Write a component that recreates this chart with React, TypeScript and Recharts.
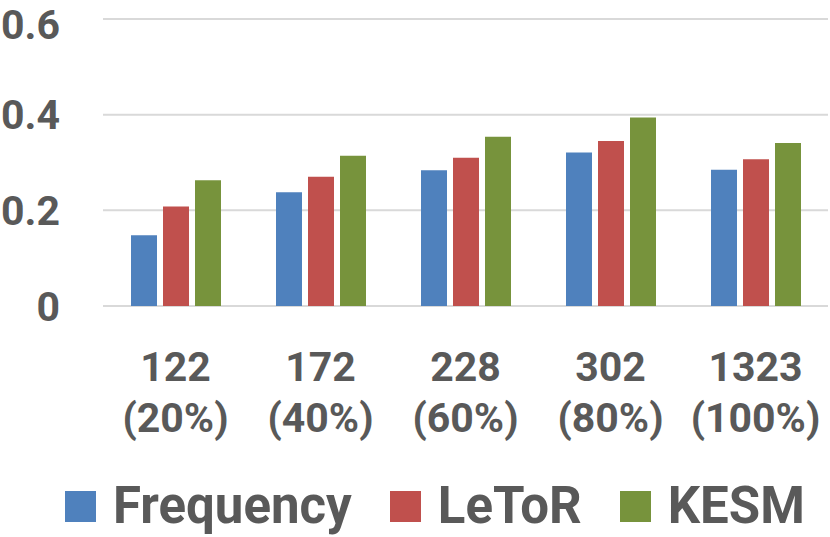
import React from "react";
import { BarChart, Bar, XAxis, YAxis, CartesianGrid } from "recharts";

const counts = ["122", "172", "228", "302", "1323"];
const shares = ["(20%)", "(40%)", "(60%)", "(80%)", "(100%)"];
const frequency = [0.148, 0.238, 0.284, 0.321, 0.285];
const letor = [0.208, 0.27, 0.31, 0.345, 0.307];
const kesm = [0.263, 0.314, 0.354, 0.394, 0.341];
const yTicks = [0, 0.2, 0.4, 0.6];

const series = [
  { key: "Frequency", color: "#4F81BD" },
  { key: "LeToR", color: "#C0504D" },
  { key: "KESM", color: "#77933C" },
];

const data = counts.map((c, i) => ({
  name: c,
  share: shares[i],
  Frequency: frequency[i],
  LeToR: letor[i],
  KESM: kesm[i],
}));

const FONT = "Roboto, 'DejaVu Sans', sans-serif";
const TEXT = "#595959";

const XTick = (props: any) => {
  const { x, y, payload, index } = props;
  return (
    <text
      x={x}
      y={y}
      textAnchor="middle"
      fill={TEXT}
      fontFamily={FONT}
      fontWeight={700}
      fontSize={41}
    >
      <tspan x={x} dy={67}>{payload.value}</tspan>
      <tspan x={x} dy={51}>{shares[index]}</tspan>
    </text>
  );
};

export default function App() {
  return (
    <div style={{ position: "absolute", left: 0, top: 0, width: 830, height: 537, background: "#fff" }}>
      <BarChart
        width={830}
        height={537}
        data={data}
        margin={{ top: 19, right: 2, left: 0, bottom: 0 }}
        barSize={26}
        barGap={6}
      >
        <CartesianGrid vertical={false} stroke="#d9d9d9" strokeWidth={2} />
        <XAxis
          dataKey="name"
          height={231}
          axisLine={false}
          tickLine={false}
          interval={0}
          tick={<XTick />}
        />
        <YAxis
          width={103}
          domain={[0, 0.6]}
          ticks={yTicks}
          axisLine={false}
          tickLine={false}
          tickFormatter={(v: number) => (v === 0 ? "0" : v.toFixed(1))}
          tick={{ fill: TEXT, fontFamily: FONT, fontWeight: 700, fontSize: 41, dx: -35 }}
        />
        {series.map((s) => (
          <Bar key={s.key} dataKey={s.key} fill={s.color} isAnimationActive={false} />
        ))}
      </BarChart>
      <div
        style={{
          position: "absolute",
          left: 65,
          top: 477,
          display: "flex",
          alignItems: "center",
          fontFamily: FONT,
          fontWeight: 700,
          fontSize: 51,
          color: TEXT,
          lineHeight: "58px",
        }}
      >
        {series.map((s) => (
          <div key={s.key} style={{ display: "flex", alignItems: "center", marginRight: 38 }}>
            <div style={{ width: 31, height: 31, background: s.color, marginRight: 17 }} />
            <span>{s.key}</span>
          </div>
        ))}
      </div>
    </div>
  );
}
